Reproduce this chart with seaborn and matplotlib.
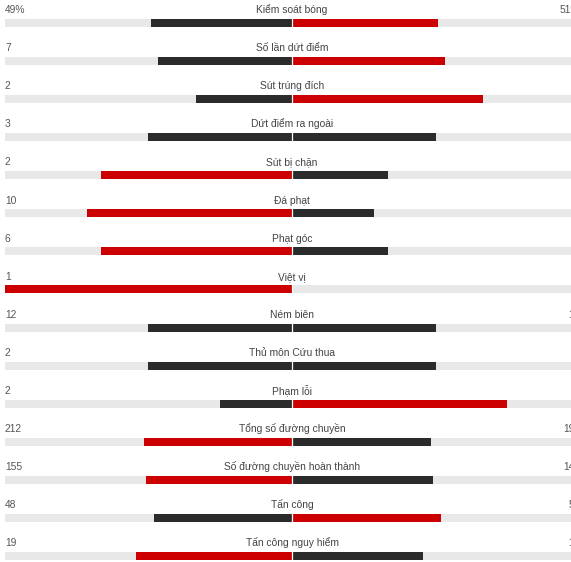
import pandas as pd
import matplotlib.pyplot as plt
import seaborn as sns

# match stats, home (left) vs away (right)
labels = ['Kiểm soát bóng', 'Số lần dứt điểm', 'Sút trúng đích', 'Dứt điểm ra ngoài',
          'Sút bị chặn', 'Đá phạt', 'Phạt góc', 'Việt vị', 'Ném biên',
          'Thủ môn Cứu thua', 'Phạm lỗi', 'Tổng số đường chuyền',
          'Số đường chuyền hoàn thành', 'Tấn công', 'Tấn công nguy hiểm']
home = [49, 7, 2, 3, 2, 10, 6, 1, 12, 2, 2, 212, 155, 48, 19]
away = [51, 8, 4, 3, 1, 4, 3, 0, 12, 2, 6, 199, 149, 52, 16]
suffix = ['%'] + [''] * 14

DARK = '#2b2b2b'
RED = '#cc0000'
TRACK = '#e8e8e8'

rows = list(range(len(labels)))
df = pd.DataFrame({'row': rows, 'label': labels, 'home': home, 'away': away})
total = df['home'] + df['away']
df['home_share'] = -df['home'] / total
df['away_share'] = df['away'] / total
df['home_col'] = ['red' if h > a else 'dark' for h, a in zip(home, away)]
df['away_col'] = ['red' if a > h else 'dark' for h, a in zip(home, away)]
df['track_l'] = -1.0
df['track_r'] = 1.0

sns.set_style('white')
plt.rcParams['font.family'] = ['Liberation Sans', 'DejaVu Sans']

fig = plt.figure(figsize=(5.71, 5.62), dpi=100)
ax = fig.add_axes([0, 0, 1, 1])

bw = 0.21
pal = {'dark': DARK, 'red': RED}
# grey background tracks, one per side
for col in ['track_l', 'track_r']:
    sns.barplot(data=df, x=col, y='row', orient='h', color=TRACK, width=bw,
                saturation=1, errorbar=None, ax=ax)
sns.barplot(data=df, x='home_share', y='row', hue='home_col', palette=pal, orient='h',
            dodge=False, width=bw, saturation=1, errorbar=None, legend=False, ax=ax)
sns.barplot(data=df, x='away_share', y='row', hue='away_col', palette=pal, orient='h',
            dodge=False, width=bw, saturation=1, errorbar=None, legend=False, ax=ax)
for p in ax.patches:
    p.set_linewidth(0)
ax.axvline(0, color='white', lw=0.9)

for i, row in df.iterrows():
    ty = i - 0.255
    ax.text(0, ty, row['label'], ha='center', va='baseline', fontsize=7.4, color='#444444')
    ax.text(-1.0, ty, f"{row['home']}{suffix[i]}", ha='left', va='baseline',
            fontsize=7.4, color='#555555')
    ax.text(1.0035, ty, f"{row['away']}{suffix[i]}", ha='right', va='baseline',
            fontsize=7.4, color='#555555')

ax.set_xlim(-1.0174, 0.9721)
ax.set_ylim(14.156, -0.599)
ax.set_axis_off()

plt.savefig('out.png', dpi=100)
plt.close()
